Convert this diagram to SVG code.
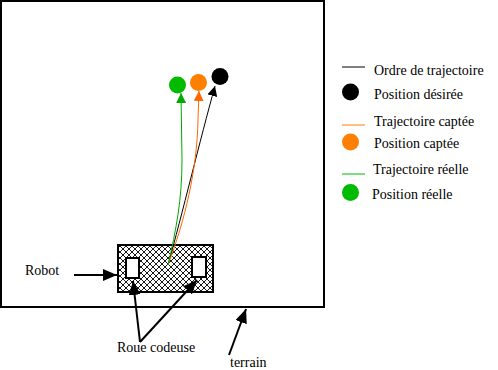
<svg xmlns="http://www.w3.org/2000/svg" width="498" height="370" viewBox="0 0 498 370">
<style>
text{font-family:"Liberation Serif","Times New Roman",serif;font-size:14px;fill:#000}
.fr{fill:none;stroke:#000;stroke-width:2}
.tr{fill:none;stroke-width:1}
.call{fill:none;stroke:#000;stroke-width:2}
</style>
<defs>
<pattern id="hatch" width="6" height="6" patternUnits="userSpaceOnUse">
<rect width="6" height="6" fill="#fff"/>
<path d="M0,0 L6,6 M6,0 L0,6" stroke="#000" stroke-width="0.9" shape-rendering="crispEdges"/>
</pattern>
<marker id="ak" markerUnits="userSpaceOnUse" markerWidth="10" markerHeight="10" refX="10" refY="5" orient="auto"><path d="M0,0 L10,5 L0,10 z" fill="#000"/></marker>
<marker id="ao" markerUnits="userSpaceOnUse" markerWidth="10" markerHeight="10" refX="10" refY="5" orient="auto"><path d="M0,0 L10,5 L0,10 z" fill="#ff6600"/></marker>
<marker id="ag" markerUnits="userSpaceOnUse" markerWidth="10" markerHeight="10" refX="10" refY="5" orient="auto"><path d="M0,0 L10,5 L0,10 z" fill="#00aa00"/></marker>
<marker id="big" markerUnits="userSpaceOnUse" markerWidth="14" markerHeight="12" refX="14" refY="6" orient="auto"><path d="M0,0 L14,6 L0,12 z" fill="#000"/></marker>
</defs>
<g id="terrain"><rect class="fr" x="1" y="1" width="323" height="306"/></g>
<g id="robot">
<rect x="118" y="245" width="95" height="47" fill="url(#hatch)" stroke="#000" stroke-width="2"/>
<rect x="126" y="258" width="13" height="20" fill="#fff" stroke="#000" stroke-width="2"/>
<rect x="192" y="257" width="14" height="20" fill="#fff" stroke="#000" stroke-width="2"/>
</g>
<g id="positions">
<circle cx="177.5" cy="85" r="8.5" fill="#00bb00"/>
<circle cx="198.5" cy="82.5" r="8.5" fill="#ff7f00"/>
<circle cx="220" cy="76.5" r="8.5" fill="#000"/>
</g>
<g id="connectors">
<path class="tr" stroke="#000" d="M168,265 C182,215 200,140 215,86" marker-end="url(#ak)"/>
<path class="tr" stroke="#ff6600" d="M168,265 C185,220 197,170 198,120 L199,91" marker-end="url(#ao)"/>
<path class="tr" stroke="#00aa00" d="M168,265 C176,230 182,200 182,160 L181,93" marker-end="url(#ag)"/>
<path class="call" d="M74,275 L117,275" marker-end="url(#big)"/>
<path class="call" d="M140,342 L133,281" marker-end="url(#big)"/>
<path class="call" d="M140,342 L197,280" marker-end="url(#big)"/>
<path class="call" d="M229,355 L246,309" marker-end="url(#big)"/>
</g>
<g id="legend">
<line x1="342" y1="67" x2="365" y2="67" stroke="#000" stroke-width="1"/>
<text x="374" y="75">Ordre de trajectoire</text>
<circle cx="350.5" cy="92" r="8.5" fill="#000"/>
<text x="374" y="99">Position désirée</text>
<line x1="342" y1="125" x2="365" y2="125" stroke="#ff7f00" stroke-width="1"/>
<text x="374" y="126">Trajectoire captée</text>
<circle cx="350.5" cy="142" r="8.5" fill="#ff7f00"/>
<text x="374" y="148">Position captée</text>
<line x1="342" y1="174" x2="365" y2="174" stroke="#00bb00" stroke-width="1"/>
<text x="373" y="174">Trajectoire réelle</text>
<circle cx="350.5" cy="192.5" r="8.5" fill="#00bb00"/>
<text x="372" y="199">Position réelle</text>
</g>
<g id="labels">
<text x="25" y="275">Robot</text>
<text x="117" y="352">Roue codeuse</text>
<text x="230" y="367">terrain</text>
</g>
</svg>
